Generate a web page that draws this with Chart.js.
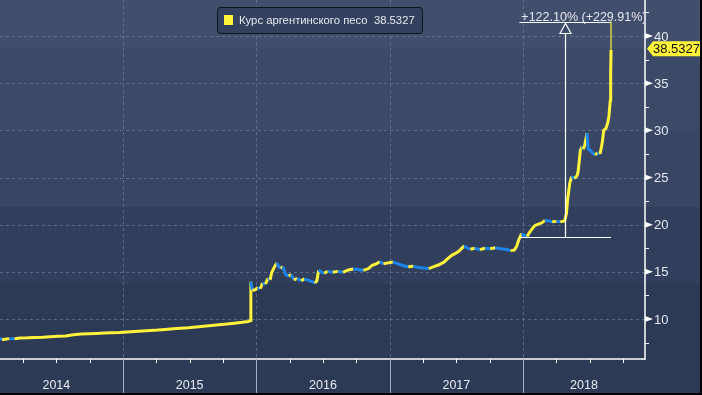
<!DOCTYPE html>
<html>
<head>
<meta charset="utf-8">
<script src="https://cdn.jsdelivr.net/npm/chart.js@4/dist/chart.umd.min.js"></script>
<style>
html,body{margin:0;padding:0;background:#2d3a57;}
#wrap{width:702px;height:395px;position:relative;}
canvas{display:block;}
</style>
</head>
<body>
<div id="wrap"><canvas id="c" width="702" height="395"></canvas></div>
<script>
// ---------- data ----------
const seriesName = 'Курс аргентинского песо';
const dates = [
'2014-01-29','2014-02-04','2014-02-12','2014-02-24','2014-03-10','2014-03-25','2014-04-15','2014-05-05','2014-05-26','2014-06-16',
'2014-07-07','2014-07-28','2014-08-18','2014-09-08','2014-09-29','2014-10-20','2014-11-10','2014-12-01','2014-12-22','2015-01-12',
'2015-02-02','2015-02-23','2015-03-16','2015-04-06','2015-04-27','2015-05-18','2015-06-08','2015-06-29','2015-07-20','2015-08-10',
'2015-08-31','2015-09-21','2015-10-12','2015-11-02','2015-11-23','2015-12-10','2015-12-16','2015-12-17','2015-12-21','2015-12-29',
'2016-01-05','2016-01-12','2016-01-18','2016-01-26','2016-02-02','2016-02-08','2016-02-12','2016-02-18','2016-02-26','2016-03-02',
'2016-03-08','2016-03-14','2016-03-21','2016-03-30','2016-04-06','2016-04-13','2016-04-22','2016-05-03','2016-05-12','2016-05-24',
'2016-06-03','2016-06-10','2016-06-15','2016-06-20','2016-06-27','2016-07-05','2016-07-15','2016-07-29','2016-08-12','2016-08-26',
'2016-09-09','2016-09-23','2016-10-07','2016-10-21','2016-11-04','2016-11-14','2016-11-25','2016-12-05','2016-12-15','2016-12-28',
'2017-01-10','2017-01-24','2017-02-07','2017-02-21','2017-03-07','2017-03-21','2017-04-04','2017-04-18','2017-05-02','2017-05-16',
'2017-05-30','2017-06-09','2017-06-20','2017-06-30','2017-07-10','2017-07-24','2017-07-31','2017-08-10','2017-08-22','2017-09-05',
'2017-09-19','2017-10-03','2017-10-17','2017-10-31','2017-11-14','2017-11-28','2017-12-08','2017-12-14','2017-12-20','2017-12-28',
'2018-01-05','2018-01-12','2018-01-19','2018-01-26','2018-02-02','2018-02-12','2018-02-22','2018-03-02','2018-03-12','2018-03-22',
'2018-04-03','2018-04-13','2018-04-25','2018-04-30','2018-05-03','2018-05-09','2018-05-14','2018-05-22','2018-05-29','2018-06-01',
'2018-06-07','2018-06-12','2018-06-15','2018-06-19','2018-06-25','2018-06-27','2018-06-29','2018-07-04','2018-07-10','2018-07-17',
'2018-07-24','2018-07-31','2018-08-06','2018-08-10','2018-08-16','2018-08-21','2018-08-24','2018-08-28','2018-08-29','2018-08-30'
];
const values = [
7.95,7.80,7.85,7.92,7.90,7.98,8.00,8.05,8.06,8.12,
8.16,8.20,8.33,8.40,8.43,8.47,8.51,8.53,8.56,8.62,
8.67,8.72,8.78,8.83,8.90,8.97,9.03,9.08,9.16,9.24,
9.31,9.38,9.46,9.56,9.65,9.74,9.83,13.95,13.05,13.10,
13.35,13.20,13.80,13.70,14.30,14.15,14.90,15.40,15.95,15.60,
15.35,15.55,14.75,14.55,14.70,14.15,14.30,14.05,14.25,14.10,
13.95,13.80,14.05,15.15,15.00,14.85,15.05,14.95,15.05,14.95,
15.20,15.30,15.25,15.15,15.35,15.70,15.85,16.05,15.85,15.95,
16.05,15.85,15.65,15.55,15.60,15.45,15.40,15.35,15.55,15.75,
16.05,16.40,16.75,16.95,17.20,17.75,17.55,17.40,17.50,17.35,
17.50,17.45,17.55,17.45,17.40,17.25,17.30,17.65,18.35,19.05,
18.85,18.75,19.20,19.55,19.90,20.05,20.20,20.45,20.40,20.30,
20.35,20.30,20.40,21.20,22.60,24.40,25.10,24.90,25.20,25.65,
27.90,28.30,28.00,28.40,29.70,28.80,28.00,27.90,27.60,27.40,
27.60,27.50,28.70,30.00,30.20,30.80,31.40,33.20,36.00,38.5327
];
const lastHigh = 41.53;
const yMajorTicks = [10, 15, 20, 25, 30, 35, 40];
const yMinorTicks = [7.5, 12.5, 17.5, 22.5, 27.5, 32.5, 37.5, 42.5];
const yearLabels = ['2014', '2015', '2016', '2017', '2018'];
const annotationStart = '2017-12-22';
const annotationEnd = '2018-08-30';
const annotationBase = 18.70;
const annotationTop = 41.53;
const annotationText = '+122.10% (+229.91%)';

// ---------- helpers ----------
function toYear(s) {
  const d = new Date(s + 'T00:00:00Z');
  const y = d.getUTCFullYear();
  const a = Date.UTC(y, 0, 1), b = Date.UTC(y + 1, 0, 1);
  return y + (d.getTime() - a) / (b - a);
}
const YELLOW = '#fff23a';
const BLUE = '#1c86ee';
const TEXT = '#e6e9ef';
const GRID = 'rgba(120,145,175,0.55)';
const FONT = '"Liberation Sans", Arial, sans-serif';

const points = dates.map((d, i) => ({x: toYear(d), y: values[i]}));
const lastX = toYear(dates[dates.length - 1]);
const lastV = values[values.length - 1];

const bgPlugin = {
  id: 'bg',
  beforeDraw(chart) {
    const ctx = chart.ctx;
    const bands = [[0, 48, '#414e6c'], [48, 130, '#3c4a68'], [130, 207, '#384663'], [207, 283, '#323f5c'], [283, 395, '#2d3a56']];
    ctx.save();
    bands.forEach(b => { ctx.fillStyle = b[2]; ctx.fillRect(0, b[0], chart.width, b[1] - b[0]); });
    ctx.restore();
  },
  beforeDatasetsDraw(chart) {
    const {ctx, chartArea: ca, scales: {x, y}} = chart;
    ctx.save();
    ctx.strokeStyle = GRID;
    ctx.lineWidth = 1;
    ctx.setLineDash([3, 3]);
    yMajorTicks.forEach(v => {
      const py = Math.round(y.getPixelForValue(v)) + 0.5;
      ctx.beginPath(); ctx.moveTo(ca.left, py); ctx.lineTo(ca.right, py); ctx.stroke();
    });
    yearLabels.forEach(l => {
      const yr = +l;
      if (yr > x.min && yr < x.max) {
        const px = Math.round(x.getPixelForValue(yr)) + 0.5;
        ctx.beginPath(); ctx.moveTo(px, ca.top); ctx.lineTo(px, ca.bottom); ctx.stroke();
      }
    });
    ctx.restore();
  },
  afterDatasetsDraw(chart) {
    const {ctx, chartArea: ca, scales: {x, y}} = chart;
    ctx.save();
    // annotation
    const ax0 = x.getPixelForValue(toYear(annotationStart));
    const ax1 = x.getPixelForValue(toYear(annotationEnd));
    const amid = Math.round((ax0 + ax1) / 2) + 0.5;
    const yb = Math.round(y.getPixelForValue(annotationBase)) + 0.5;
    const yt = Math.round(y.getPixelForValue(annotationTop)) + 0.5;
    ctx.strokeStyle = '#ffffff';
    ctx.lineWidth = 1.2;
    ctx.beginPath(); ctx.moveTo(ax0, yb); ctx.lineTo(ax1, yb); ctx.stroke();
    ctx.beginPath(); ctx.moveTo(ax0, yt); ctx.lineTo(ax1, yt); ctx.stroke();
    ctx.beginPath(); ctx.moveTo(amid, yb); ctx.lineTo(amid, yt + 10); ctx.stroke();
    ctx.beginPath();
    ctx.moveTo(amid, yt + 1); ctx.lineTo(amid - 5.5, yt + 11); ctx.lineTo(amid + 5.5, yt + 11); ctx.closePath();
    ctx.fillStyle = '#3d4a68'; ctx.fill(); ctx.stroke();
    // annotation text clipped at chart area
    ctx.save();
    ctx.beginPath(); ctx.rect(0, 0, ca.right - 1, ca.bottom); ctx.clip();
    ctx.fillStyle = TEXT;
    ctx.font = '12.5px ' + FONT;
    ctx.textBaseline = 'alphabetic';
    ctx.textAlign = 'left';
    ctx.fillText(annotationText, ax0 + 2, yt - 2);
    ctx.restore();

    // right axis
    ctx.strokeStyle = '#ffffff';
    ctx.lineWidth = 1.5;
    ctx.setLineDash([]);
    ctx.beginPath(); ctx.moveTo(ca.right, ca.top); ctx.lineTo(ca.right, ca.bottom + 1); ctx.stroke();
    // bottom axis
    ctx.beginPath(); ctx.moveTo(ca.left, ca.bottom); ctx.lineTo(ca.right, ca.bottom); ctx.stroke();
    // y minor ticks
    ctx.lineWidth = 1;
    yMinorTicks.forEach(v => {
      const py = Math.round(y.getPixelForValue(v)) + 0.5;
      if (py > ca.top && py < ca.bottom) {
        ctx.beginPath(); ctx.moveTo(ca.right, py); ctx.lineTo(ca.right + 4, py); ctx.stroke();
      }
    });
    // y major ticks (triangles) + labels
    ctx.font = '13px ' + FONT;
    ctx.textBaseline = 'middle';
    ctx.textAlign = 'left';
    yMajorTicks.forEach(v => {
      const py = y.getPixelForValue(v);
      ctx.fillStyle = '#ffffff';
      ctx.beginPath(); ctx.moveTo(ca.right, py - 3); ctx.lineTo(ca.right + 8, py); ctx.lineTo(ca.right, py + 3); ctx.closePath(); ctx.fill();
      ctx.fillStyle = TEXT;
      ctx.fillText(String(v), ca.right + 9, py + 1);
    });
    // x ticks
    ctx.strokeStyle = '#ffffff';
    for (let yr = 2014; yr <= 2019; yr++) {
      for (let q = 1; q < 4; q++) {
        const v = yr + q / 4;
        if (v > x.min && v < x.max) {
          const px = Math.round(x.getPixelForValue(v)) + 0.5;
          ctx.beginPath(); ctx.moveTo(px, ca.bottom); ctx.lineTo(px, ca.bottom + 4); ctx.stroke();
        }
      }
    }
    // year separators & labels
    ctx.strokeStyle = '#a4aec0';
    ctx.fillStyle = TEXT;
    ctx.font = '12.5px ' + FONT;
    ctx.textAlign = 'center';
    ctx.textBaseline = 'middle';
    yearLabels.forEach(l => {
      const yr = +l;
      if (yr > x.min && yr < x.max) {
        const px = Math.round(x.getPixelForValue(yr)) + 0.5;
        ctx.beginPath(); ctx.moveTo(px, ca.bottom); ctx.lineTo(px, chart.height); ctx.stroke();
      }
      const a = x.getPixelForValue(yr);
      const b = Math.min(x.getPixelForValue(yr + 1), ca.right);
      ctx.fillText(l, (a + b) / 2, ca.bottom + 27);
    });

    // last value label
    const ly = y.getPixelForValue(lastV) - 1;
    ctx.fillStyle = YELLOW;
    ctx.beginPath();
    ctx.moveTo(ca.right + 2, ly);
    ctx.lineTo(ca.right + 8, ly - 7.5);
    ctx.lineTo(chart.width, ly - 7.5);
    ctx.lineTo(chart.width, ly + 7.5);
    ctx.lineTo(ca.right + 8, ly + 7.5);
    ctx.closePath(); ctx.fill();
    ctx.fillStyle = '#111111';
    ctx.font = '13px ' + FONT;
    ctx.textAlign = 'left';
    ctx.fillText(String(lastV), ca.right + 8, ly + 1);

    // legend
    const lx = 217, lyy = 7, lw = 205, lh = 26;
    ctx.fillStyle = '#33405e';
    ctx.strokeStyle = '#0e131c';
    ctx.lineWidth = 1;
    ctx.beginPath();
    if (ctx.roundRect) ctx.roundRect(lx + 0.5, lyy + 0.5, lw, lh, 3); else ctx.rect(lx + 0.5, lyy + 0.5, lw, lh);
    ctx.fill(); ctx.stroke();
    ctx.fillStyle = YELLOW;
    ctx.fillRect(224, 15, 9, 10);
    ctx.fillStyle = TEXT;
    const legendText = seriesName + '  ' + lastV;
    let fs = 12;
    ctx.font = fs + 'px ' + FONT;
    const w = ctx.measureText(legendText).width;
    fs = Math.min(12, fs * 176 / w);
    ctx.font = fs.toFixed(2) + 'px ' + FONT;
    ctx.textBaseline = 'middle';
    ctx.fillText(legendText, 239, 21);

    // outer border
    ctx.fillStyle = '#000000';
    ctx.fillRect(chart.width - 2, 0, 2, chart.height);
    ctx.fillRect(0, chart.height - 2, chart.width, 2);
    ctx.restore();
  }
};

new Chart(document.getElementById('c'), {
  type: 'line',
  data: {
    datasets: [
      {
        data: points,
        borderColor: YELLOW,
        borderWidth: 3,
        pointRadius: 0,
        tension: 0,
        segment: {
          borderColor: c => (c.p1.parsed.y < c.p0.parsed.y ? BLUE : YELLOW)
        }
      },
      {
        data: [{x: lastX, y: lastV}, {x: lastX, y: lastHigh}],
        borderColor: YELLOW,
        borderWidth: 1.2,
        pointRadius: 0
      }
    ]
  },
  options: {
    responsive: false,
    animation: false,
    devicePixelRatio: 1,
    layout: {padding: {left: 0, right: 57, top: 0, bottom: 36}},
    scales: {
      x: {type: 'linear', min: 2014.0775, max: 2018.915, display: false},
      y: {type: 'linear', min: 5.76, max: 43.82, display: false}
    },
    plugins: {legend: {display: false}, tooltip: {enabled: false}}
  },
  plugins: [bgPlugin]
});
</script>
</body>
</html>
